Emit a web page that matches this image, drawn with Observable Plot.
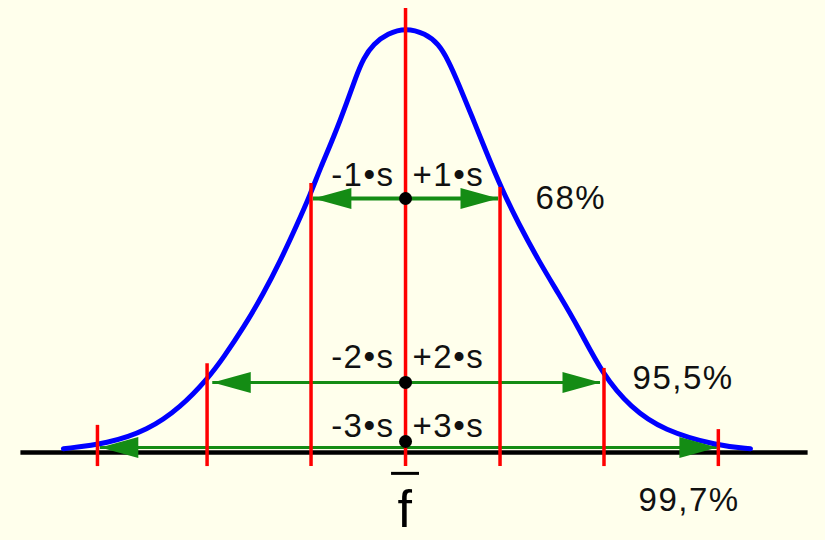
<!DOCTYPE html>
<html>
<head>
<meta charset="utf-8">
<script src="https://cdn.jsdelivr.net/npm/d3@7"></script>
<script src="https://cdn.jsdelivr.net/npm/@observablehq/plot@0.6"></script>
<style>
  html, body { margin: 0; padding: 0; background: #ffffec; }
  #chart svg text { letter-spacing: 1.5px; }
</style>
</head>
<body>
<div id="chart"></div>
<script>
// Bell curve: offset from the mean (in s) and height relative to the peak
const curveX = [-3.62, -3.15, -2.73, -2.381, -2.085, -1.926, -1.714, -1.503, -1.323, -1.143, -1.005, -0.899,
                -0.762, -0.614, -0.529, -0.444, -0.339, -0.190, 0,
                0.212, 0.349, 0.455, 0.561, 0.709, 0.847, 1.026, 1.196, 1.407, 1.619, 1.831, 2.085,
                2.381, 2.73, 3.30, 3.65];
const curveY = [0.009, 0.021, 0.052, 0.106, 0.176, 0.224, 0.294, 0.374, 0.452, 0.539, 0.609, 0.671,
                0.741, 0.828, 0.882, 0.929, 0.962, 0.986, 1.0,
                0.986, 0.962, 0.922, 0.868, 0.788, 0.711, 0.616, 0.539, 0.452, 0.374, 0.294, 0.184,
                0.106, 0.052, 0.016, 0.009];

// Boundaries at -3s … +3s and the height each red marker reaches
const boundX   = [-3.26, -2.10, -1.0, 0, 1.0, 2.10, 3.31];
const boundTop = [0.064, 0.209, 0.633, 1.045, 0.624, 0.198, 0.054];
const boundBottom = -0.033;

// The three intervals: arrow extent and height, centre dot height, labels
const levels      = [1, 2, 3];
const arrowLeft   = [-0.975, -2.04, -3.23];
const arrowRight  = [0.984, 2.063, 3.30];
const arrowY      = [0.598, 0.165, 0.012];
const dotY        = [0.598, 0.165, 0.026];
const leftLabels  = ["-1•s", "-2•s", "-3•s"];
const rightLabels = ["+1•s", "+2•s", "+3•s"];
const labelY      = [0.652, 0.224, 0.062];
const shares      = ["68%", "95,5%", "99,7%"];
const shareX      = [1.376, 2.402, 2.466];
const shareY      = [0.598, 0.175, -0.112];

// Mean symbol below the axis
const meanLabel = "f";
const meanLabelY = -0.137;
const meanBarY = -0.049;
const meanBarHalf = 0.148;

// Baseline extent
const axisFrom = -4.07, axisTo = 4.26;

const curve = curveX.map((x, i) => ({x, y: curveY[i]}));
const bounds = boundX.map((x, i) => ({x, top: boundTop[i]}));
const intervals = levels.map((k, i) => ({
  k, left: arrowLeft[i], right: arrowRight[i], y: arrowY[i], dot: dotY[i],
  leftLabel: leftLabels[i], rightLabel: rightLabels[i], labelY: labelY[i],
  share: shares[i], shareX: shareX[i], shareY: shareY[i]
}));

const green = "#148c14";
const font = "Liberation Sans, Arial, Helvetica, sans-serif";

// Filled arrowheads with the tip at the anchor point
const headLeft = {draw(ctx) { ctx.moveTo(0, 0); ctx.lineTo(38, -10.5); ctx.lineTo(38, 10.5); ctx.closePath(); }};
const headRight = {draw(ctx) { ctx.moveTo(0, 0); ctx.lineTo(-38, -10.5); ctx.lineTo(-38, 10.5); ctx.closePath(); }};

const chart = Plot.plot({
  width: 825,
  height: 540,
  margin: 0,
  x: {domain: [-4.286, 4.444], axis: null},
  y: {domain: [-0.207, 1.064], axis: null},
  style: {background: "#ffffec", fontFamily: font, color: "#000"},
  marks: [
    Plot.ruleY([{y: 0, x1: axisFrom, x2: axisTo}], {y: "y", x1: "x1", x2: "x2", stroke: "#000", strokeWidth: 4.5}),
    Plot.ruleY(intervals, {y: "y", x1: "left", x2: "right", stroke: green, strokeWidth: d => d.k === 1 ? 4 : 3}),
    Plot.line(curve, {x: "x", y: "y", curve: "basis", stroke: "#0000ff", strokeWidth: 5}),
    Plot.ruleX(bounds, {x: "x", y1: () => boundBottom, y2: "top", stroke: "#ff0000", strokeWidth: 3.5}),
    Plot.dot(intervals, {x: "left", y: "y", symbol: headLeft, fill: green, stroke: "none"}),
    Plot.dot(intervals, {x: "right", y: "y", symbol: headRight, fill: green, stroke: "none"}),
    Plot.dot(intervals, {x: () => 0, y: "dot", r: 6.5, fill: "#000", stroke: "none"}),
    Plot.text(intervals, {x: () => 0, y: "labelY", text: "leftLabel", textAnchor: "end", dx: -11, fontSize: 33, fill: "#111"}),
    Plot.text(intervals, {x: () => 0, y: "labelY", text: "rightLabel", textAnchor: "start", dx: 7, fontSize: 33, fill: "#111"}),
    Plot.text(intervals, {x: "shareX", y: "shareY", text: "share", textAnchor: "start", fontSize: 33, fill: "#111"}),
    Plot.ruleY([{y: meanBarY}], {y: "y", x1: () => -meanBarHalf, x2: () => meanBarHalf, stroke: "#000", strokeWidth: 3}),
    Plot.text([meanLabel], {x: () => 0, y: () => meanLabelY, text: d => d, fontSize: 52, fill: "#000"})
  ]
});

document.getElementById("chart").appendChild(chart);
</script>
</body>
</html>
